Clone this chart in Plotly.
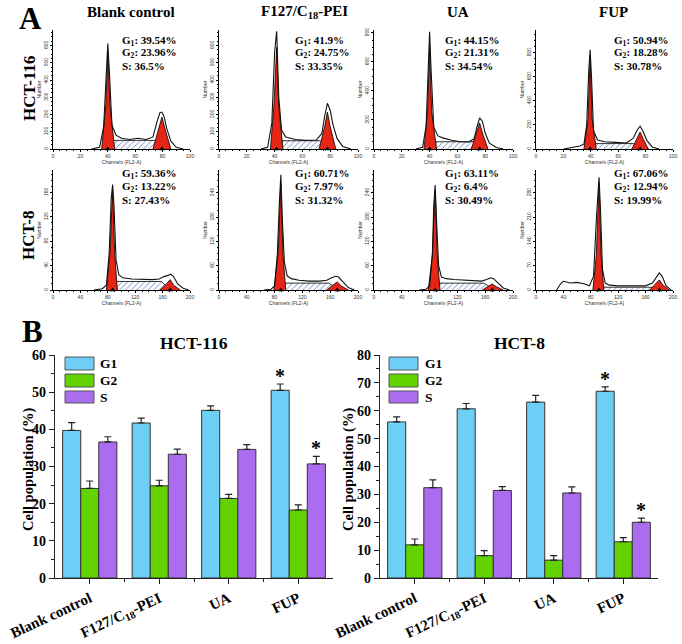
import plotly.graph_objects as go

W, H = 682, 644
SERIF = "Liberation Serif, Times New Roman, serif"
SANS = "Liberation Sans, Arial, sans-serif"

# ---------------- Panel A : flow-cytometry histograms ----------------
col_titles = ["Blank control", "F127/C<sub>18</sub>-PEI", "UA", "FUP"]
row_titles = ["HCT-116", "HCT-8"]
g1_pct = [39.54, 41.9, 44.15, 50.94, 59.36, 60.71, 63.11, 67.06]
g2_pct = [23.96, 24.75, 21.31, 18.28, 13.22, 7.97, 6.4, 12.94]
s_pct = [36.5, 33.35, 34.54, 30.78, 27.43, 31.32, 30.49, 19.99]

hist_xmax = [100, 100, 100, 100, 200, 200, 200, 200]
hist_xdtick = [20, 20, 20, 20, 40, 40, 40, 40]
hist_ymax = [690, 690, 820, 990, 197, 296, 296, 346]
hist_ydtick = [100, 100, 200, 200, 40, 60, 60, 70]

# measured outline of each histogram (channel, count)
outline_ch = [
    [28, 34, 37, 39, 40, 41, 43, 46, 50, 56, 62, 68, 73, 76, 78, 79.5, 81, 83, 86, 90, 95],
    [30, 35, 38, 40, 41.5, 43, 45, 48, 55, 62, 70, 74, 76, 78, 80, 82, 85, 89, 95],
    [30, 35, 37.5, 39, 40, 41, 43, 46, 50, 56, 62, 68, 72, 74, 76, 78, 80, 83, 88, 93],
    [20, 27, 32, 35, 37, 38.5, 39.5, 40.5, 42, 45, 50, 58, 66, 71, 74, 76, 78, 81, 85, 90],
    [60, 72, 78, 82, 85, 87, 89, 92, 96, 102, 115, 130, 145, 155, 162, 168, 172, 176, 182, 190, 198],
    [65, 75, 80, 84, 87, 89, 91, 94, 98, 104, 115, 130, 145, 155, 162, 168, 172, 178, 186, 195],
    [65, 75, 80, 84, 86, 88, 90, 93, 97, 104, 115, 130, 145, 155, 162, 168, 172, 178, 186, 195],
    [30, 36, 40, 50, 60, 70, 78, 84, 88, 92, 94, 97, 101, 107, 120, 140, 160, 170, 176, 180, 184, 190, 197],
]
outline_n = [
    [0, 10, 130, 480, 612, 470, 140, 80, 62, 55, 62, 55, 70, 160, 210, 214, 190, 120, 45, 10, 0],
    [0, 10, 150, 560, 683, 300, 110, 70, 55, 50, 52, 90, 190, 265, 225, 140, 60, 15, 0],
    [0, 12, 160, 600, 807, 560, 150, 90, 75, 60, 50, 48, 70, 150, 214, 190, 110, 40, 10, 0],
    [0, 15, 25, 40, 200, 650, 825, 600, 150, 75, 60, 55, 50, 90, 160, 190, 150, 70, 15, 0],
    [0, 2, 8, 60, 150, 173, 140, 50, 25, 20, 18, 17, 17, 18, 22, 24, 26, 22, 10, 3, 0],
    [0, 2, 10, 90, 220, 284, 180, 70, 35, 28, 24, 22, 22, 24, 30, 34, 32, 20, 6, 0],
    [0, 2, 10, 90, 210, 259, 170, 60, 32, 28, 26, 24, 22, 22, 26, 30, 28, 18, 5, 0],
    [0, 18, 25, 20, 22, 18, 12, 40, 200, 325, 240, 60, 20, 14, 12, 11, 12, 20, 38, 49, 40, 12, 0],
]
# fitted G1 peak (red)
g1_fit_ch = [
    [35.5, 38.5, 40, 41.5, 45], [37, 39.5, 41.5, 43, 46], [36, 38.5, 40, 41.5, 45], [35, 38, 39.5, 41, 44],
    [78, 83, 87, 90, 94], [79, 85, 89, 92, 96], [78, 84, 88, 91, 95], [83, 88, 92, 95, 99],
]
g1_fit_n = [
    [0, 250, 575, 260, 0], [0, 250, 590, 250, 0], [0, 260, 703, 260, 0], [0, 250, 767, 250, 0],
    [0, 60, 165, 60, 0], [0, 90, 264, 90, 0], [0, 85, 247, 85, 0], [0, 100, 310, 100, 0],
]
# fitted G2 peak (red)
g2_fit_ch = [
    [73, 77, 79.5, 82, 86], [72, 76, 78, 80, 84], [70, 74, 76, 78, 82], [70, 74, 76, 78, 82],
    [156, 164, 171, 176, 186], [155, 163, 170, 176, 186], [156, 164, 170, 176, 186], [166, 174, 180, 185, 194],
]
g2_fit_n = [
    [0, 120, 185, 110, 0], [0, 130, 214, 130, 0], [0, 110, 180, 110, 0], [0, 90, 142, 90, 0],
    [0, 8, 17, 8, 0], [0, 10, 20, 10, 0], [0, 8, 15, 8, 0], [0, 15, 29, 15, 0],
]
# fitted S phase (hatched)
s_fit_ch = [
    [38, 44, 75, 82], [39, 45, 73, 80], [38, 44, 72, 79], [37, 43, 71, 78],
    [84, 94, 158, 172], [86, 96, 158, 174], [85, 95, 158, 174], [89, 99, 167, 182],
]
s_fit_n = [
    [0, 50, 50, 0], [0, 48, 48, 0], [0, 50, 50, 0], [0, 45, 45, 0],
    [0, 14, 14, 0], [0, 17, 17, 0], [0, 17, 17, 0], [0, 8, 8, 0],
]

# ---------------- Panel B : bar charts ----------------
categories = ["Blank control", "F127/C<sub>18</sub>-PEI", "UA", "FUP"]
phases = ["G1", "G2", "S"]
hct116_g1 = [39.7, 41.7, 45.1, 50.5]
hct116_g1_err = [2.1, 1.3, 1.2, 1.7]
hct116_g2 = [24.1, 24.8, 21.4, 18.3]
hct116_g2_err = [2.0, 1.5, 1.1, 1.4]
hct116_s = [36.6, 33.3, 34.6, 30.7]
hct116_s_err = [1.4, 1.4, 1.3, 2.0]
hct8_g1 = [56.0, 60.7, 63.1, 67.0]
hct8_g1_err = [1.8, 1.9, 2.4, 1.6]
hct8_g2 = [11.9, 8.0, 6.4, 13.0]
hct8_g2_err = [2.1, 1.8, 1.6, 1.5]
hct8_s = [32.4, 31.4, 30.5, 20.0]
hct8_s_err = [2.8, 1.4, 2.2, 1.5]
significant = [("FUP", "G1"), ("FUP", "S")]

phase_colors = {"G1": "#6DCFF6", "G2": "#63D300", "S": "#AC6CF0"}
RED = "#E62514"


def px(x):
    return x / W


def py(y):
    return 1 - y / H


def aname(p, i):
    return p if i == 1 else f"{p}{i}"


fig = go.Figure()
layout = {}
annotations = []
shapes = []

col_px = [(53, 190), (219, 358), (374, 513), (536, 673)]
row_px = [(30, 149), (170, 290)]
text_x = [120, 293, 443, 612]
text_y = [(41, 53, 66), (174, 187, 200)]

for k in range(8):
    r, c = divmod(k, 4)
    i = k + 1
    xr, yr = aname("x", i), aname("y", i)
    # S phase hatched
    fig.add_trace(go.Scatter(
        x=s_fit_ch[k], y=s_fit_n[k], mode="lines", fill="toself",
        fillcolor="white",
        fillpattern=dict(shape="/", fgcolor="#2E4FA0", bgcolor="white", size=4, solidity=0.25),
        line=dict(color="black", width=0.8), xaxis=xr, yaxis=yr, showlegend=False, hoverinfo="skip"))
    for chs, ns in ((g1_fit_ch[k], g1_fit_n[k]), (g2_fit_ch[k], g2_fit_n[k])):
        fig.add_trace(go.Scatter(
            x=chs, y=ns, mode="lines", fill="toself", fillcolor=RED,
            line=dict(color="black", width=0.8), xaxis=xr, yaxis=yr,
            showlegend=False, hoverinfo="skip"))
    fig.add_trace(go.Scatter(
        x=outline_ch[k], y=outline_n[k], mode="lines",
        line=dict(color="#111111", width=1.1), xaxis=xr, yaxis=yr,
        showlegend=False, hoverinfo="skip"))
    # peak position markers
    pk = [g1_fit_ch[k][2], g2_fit_ch[k][2]]
    fig.add_trace(go.Scatter(
        x=pk, y=[0, 0], mode="markers", cliponaxis=False,
        marker=dict(symbol="triangle-up", size=5, color="black"),
        xaxis=xr, yaxis=yr, showlegend=False, hoverinfo="skip"))

    x0, x1 = col_px[c]
    ytop, ybot = row_px[r]
    layout[aname("xaxis", i)] = dict(
        domain=[px(x0), px(x1)], anchor=yr, range=[0, hist_xmax[k]],
        dtick=hist_xdtick[k], tick0=0, showline=True, linecolor="black", linewidth=0.8,
        ticks="outside", ticklen=2.5, tickwidth=0.6, tickcolor="black",
        minor=dict(dtick=hist_xdtick[k] / 4, ticks="outside", ticklen=1.5, tickcolor="black", tickwidth=0.5),
        tickfont=dict(size=5, family=SANS, color="#333"), showgrid=False, zeroline=False,
        title=dict(text="Channels (FL2-A)", font=dict(size=5, family=SANS, color="#333"), standoff=0),
        automargin=False)
    layout[aname("yaxis", i)] = dict(
        domain=[py(ybot), py(ytop)], anchor=xr, range=[0, hist_ymax[k]],
        dtick=hist_ydtick[k], tick0=0, showline=True, linecolor="black", linewidth=0.8,
        ticks="outside", ticklen=2.5, tickwidth=0.6, tickcolor="black", tickangle=-90,
        minor=dict(dtick=hist_ydtick[k] / 4, ticks="outside", ticklen=1.5, tickcolor="black", tickwidth=0.5),
        tickfont=dict(size=5, family=SANS, color="#333"), showgrid=False, zeroline=False,
        title=dict(text="Number", font=dict(size=5, family=SANS, color="#333"), standoff=0),
        automargin=False)

    labels = [f"G<sub>1</sub>: {g1_pct[k]}%", f"G<sub>2</sub>: {g2_pct[k]}%", f"S: {s_pct[k]}%"]
    for t, yy in zip(labels, text_y[r]):
        annotations.append(dict(
            text=f"<b>{t}</b>", x=px(text_x[c]), y=py(yy), xref="paper", yref="paper",
            xanchor="left", yanchor="middle", showarrow=False,
            font=dict(family=SERIF, size=11, color="black")))

# column / row titles and panel letters
for t, xc in zip(col_titles, [131, 304, 458, 613]):
    annotations.append(dict(text=f"<b>{t}</b>", x=px(xc), y=py(12), xref="paper", yref="paper",
                            xanchor="center", yanchor="middle", showarrow=False,
                            font=dict(family=SERIF, size=15, color="black")))
for t, yc in zip(row_titles, [88, 235]):
    annotations.append(dict(text=f"<b>{t}</b>", x=px(29), y=py(yc), xref="paper", yref="paper",
                            xanchor="center", yanchor="middle", showarrow=False, textangle=-90,
                            font=dict(family=SERIF, size=17, color="black")))
for t, xc, yc in (("A", 30, 19), ("B", 32, 331)):
    annotations.append(dict(text=f"<b>{t}</b>", x=px(xc), y=py(yc), xref="paper", yref="paper",
                            xanchor="center", yanchor="middle", showarrow=False,
                            font=dict(family=SERIF, size=31, color="black")))

# ---------------- bar charts ----------------
bar_sets = [
    ("HCT-116", 9, (55, 333), 60, {"G1": (hct116_g1, hct116_g1_err), "G2": (hct116_g2, hct116_g2_err),
                                   "S": (hct116_s, hct116_s_err)}, 28, 65, 98),
    ("HCT-8", 10, (380, 658), 80, {"G1": (hct8_g1, hct8_g1_err), "G2": (hct8_g2, hct8_g2_err),
                                  "S": (hct8_s, hct8_s_err)}, 348, 389, 423),
]
xs = list(range(len(categories)))
bar_offset = {"G1": -0.26, "G2": 0.0, "S": 0.26}

for title, i, (x0, x1), ymax, series, ytitle_x, leg_x, leg_tx in bar_sets:
    xr, yr = aname("x", i), aname("y", i)
    for ph in phases:
        vals, errs = series[ph]
        fig.add_trace(go.Bar(
            x=xs, y=vals, name=ph, xaxis=xr, yaxis=yr, showlegend=False,
            marker=dict(color=phase_colors[ph], line=dict(color="#333333", width=1)),
            error_y=dict(type="data", array=errs, arrayminus=[0] * len(errs), symmetric=False,
                         color="#222222", thickness=1.2, width=3.5)))
    for cat, ph in significant:
        ci = categories.index(cat)
        vals, errs = series[ph]
        annotations.append(dict(text="<b>*</b>", x=ci + bar_offset[ph], y=vals[ci] + errs[ci],
                                xref=xr, yref=yr, xanchor="center", yanchor="bottom", yshift=-5,
                                showarrow=False, font=dict(family=SERIF, size=20, color="black")))
    layout[aname("xaxis", i)] = dict(
        domain=[px(x0), px(x1)], anchor=yr, range=[-0.5, 3.5], tickmode="array",
        tickvals=xs, ticktext=[f"<b>{t}</b>" for t in categories], tickangle=-25,
        showline=True, linecolor="#222", linewidth=1.3, ticks="outside", ticklen=5, tickwidth=1.2,
        tickcolor="#222",
        minor=dict(tickmode="array", tickvals=[0.5, 1.5, 2.5], ticks="outside", ticklen=3,
                   tickwidth=1, tickcolor="#222"),
        tickfont=dict(family=SERIF, size=15, color="black"), showgrid=False, zeroline=False,
        automargin=False)
    layout[aname("yaxis", i)] = dict(
        domain=[py(578), py(355)], anchor=xr, range=[0, ymax], dtick=10,
        showline=True, linecolor="#222", linewidth=1.3, ticks="outside", ticklen=5, tickwidth=1.2,
        tickcolor="#222",
        minor=dict(dtick=5, ticks="outside", ticklen=3, tickwidth=1, tickcolor="#222"),
        tickfont=dict(family=SERIF, size=14, color="black"), tickprefix="<b>", ticksuffix="</b>",
        showgrid=False, zeroline=False, automargin=False)
    annotations.append(dict(text="<b>Cell population (%)</b>", x=px(ytitle_x), y=py(470),
                            xref="paper", yref="paper", xanchor="center", yanchor="middle",
                            textangle=-90, showarrow=False,
                            font=dict(family=SERIF, size=14.5, color="black")))
    annotations.append(dict(text=f"<b>{title}</b>", x=px((x0 + x1) / 2), y=py(343),
                            xref="paper", yref="paper", xanchor="center", yanchor="middle",
                            showarrow=False, font=dict(family=SERIF, size=17.5, color="black")))
    # legend boxes
    for ph, (ya, yb) in zip(phases, [(357, 370), (374, 387), (391, 403)]):
        shapes.append(dict(type="rect", xref="paper", yref="paper", x0=px(leg_x), x1=px(leg_x + 29),
                           y0=py(yb), y1=py(ya), fillcolor=phase_colors[ph],
                           line=dict(color="#555", width=1)))
        annotations.append(dict(text=f"<b>{ph}</b>", x=px(leg_tx), y=py((ya + yb) / 2),
                                xref="paper", yref="paper", xanchor="left", yanchor="middle",
                                showarrow=False, font=dict(family=SERIF, size=13.5, color="black")))

fig.update_layout(
    width=W, height=H, margin=dict(l=0, r=0, t=0, b=0),
    paper_bgcolor="white", plot_bgcolor="white",
    barmode="group", bargap=0.22, bargroupgap=0,
    annotations=annotations, shapes=shapes, showlegend=False,
    **layout)

fig.write_html("out.html", config={"displayModeBar": False},
               post_script="document.body.style.margin='0px';document.body.style.overflow='hidden';")
